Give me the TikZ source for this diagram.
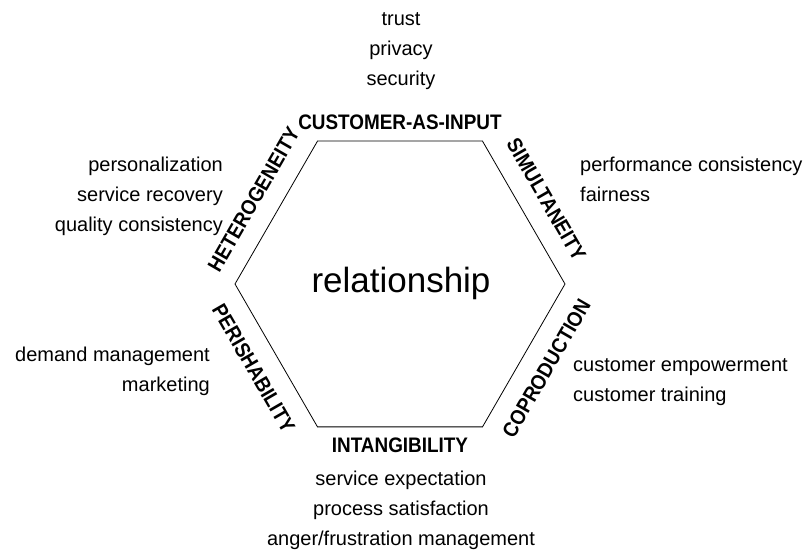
\documentclass[tikz,border=0pt]{standalone}
\usepackage{fontspec}
\setmainfont{Liberation Sans}
\newfontfamily\capfont[FakeStretch=0.9]{Liberation Sans Bold}
\usetikzlibrary{positioning}

\begin{document}
\begin{tikzpicture}[x=1pt,y=1pt,thin,
        txt/.style={inner sep=0pt,font=\fontsize{20}{24}\selectfont},
        dim/.style={inner sep=0pt,font=\capfont\fontsize{21}{24}\selectfont},
        hexline/.style={draw,line width=0.8pt,line join=miter}]
    \useasboundingbox (0,0) rectangle (809,551);

    % hexagon
    \coordinate (c) at (400,267);
    \foreach \a/\n in {0/r,60/tr,120/tl,180/l,240/bl,300/br}
        \coordinate (\n) at ([shift={(\a:165)}]c);
    \draw[hexline] (r) -- (tr) -- (tl) -- (l) -- (bl) -- (br) -- cycle;

    \node[inner sep=0pt,font=\fontsize{35}{40}\selectfont,anchor=base] (rel) at (401,258) {relationship};

    % dimensions along the edges
    \node[dim] (cust) at ([shift={(90:161.5)}]c) {CUSTOMER-AS-INPUT};
    \node[dim] (intang) at ([shift={(270:161.5)}]c) {INTANGIBILITY};
    \node[dim,rotate=60] (hetero) at ([shift={(150:169)}]c) {HETEROGENEITY};
    \node[dim,rotate=-60] (simul) at ([shift={(30:169)}]c) {SIMULTANEITY};
    \node[dim,rotate=-60] (perish) at ([shift={(210:169)}]c) {PERISHABILITY};
    \node[dim,rotate=60] (coprod) at ([shift={(330:169)}]c) {COPRODUCTION};

    % top
    \node[txt,anchor=base] (trust) at (401,525) {trust};
    \node[txt,below=30pt of trust.base,anchor=base] (privacy) {privacy};
    \node[txt,below=30pt of privacy.base,anchor=base] (security) {security};

    % upper left
    \node[txt,anchor=base east] (pers) at (223,379) {personalization};
    \node[txt,below=30pt of pers.base east,anchor=base east] (recov) {service recovery};
    \node[txt,below=30pt of recov.base east,anchor=base east] (qual) {quality consistency};

    % upper right
    \node[txt,anchor=base west] (perf) at (580,379) {performance consistency};
    \node[txt,below=30pt of perf.base west,anchor=base west] (fair) {fairness};

    % lower left
    \node[txt,anchor=base east] (demand) at (210,189) {demand management};
    \node[txt,below=30pt of demand.base east,anchor=base east] (mark) {marketing};

    % lower right
    \node[txt,anchor=base west] (empow) at (573,179) {customer empowerment};
    \node[txt,below=30pt of empow.base west,anchor=base west] (train) {customer training};

    % bottom
    \node[txt,anchor=base] (expect) at (401,65) {service expectation};
    \node[txt,below=30pt of expect.base,anchor=base] (satis) {process satisfaction};
    \node[txt,below=30pt of satis.base,anchor=base] (anger) {anger/frustration management};
\end{tikzpicture}
\end{document}
